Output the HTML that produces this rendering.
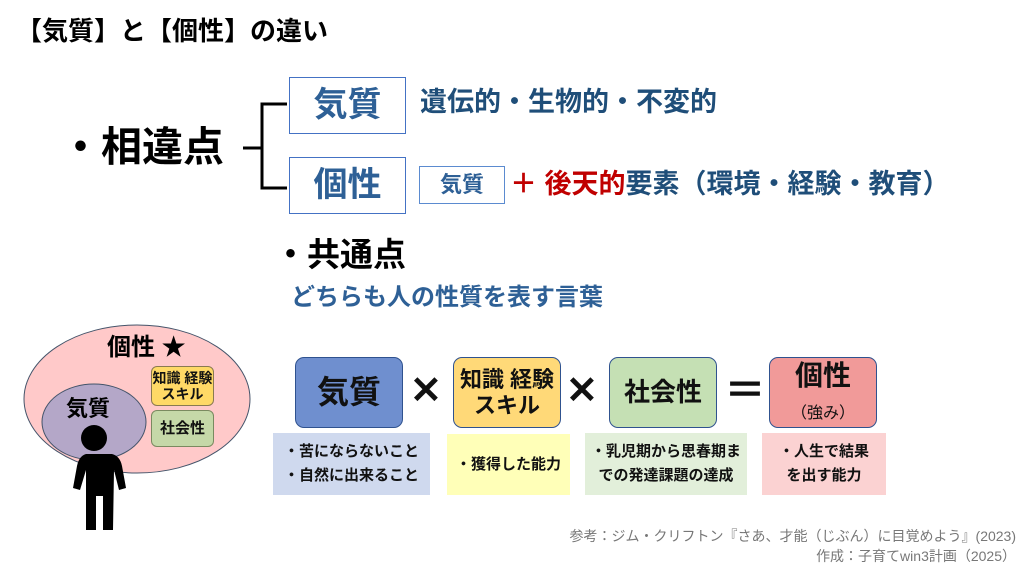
<!DOCTYPE html>
<html><head><meta charset="utf-8"><style>
body{margin:0;width:1024px;height:576px;background:#fff;position:relative;overflow:hidden;font-family:"Liberation Sans","Noto Sans CJK JP",sans-serif;font-weight:bold}
.a{position:absolute;white-space:nowrap;line-height:1}
.bx{position:absolute;box-sizing:border-box;display:flex;align-items:center;justify-content:center;text-align:center;line-height:1.15}
.rb{border:1.5px solid #2f528f;border-radius:9px;color:#111}
</style></head><body>
<div class="a" style="left:16px;top:18px;font-size:26px;color:#000">【気質】と【個性】の違い</div>
<div class="a" style="left:60px;top:127px;font-size:41px;color:#000">・相違点</div>
<svg class="a" style="left:0;top:0" width="1024" height="576">
<path d="M243 148 H262 M287 104 H262 V188 H287" stroke="#000" stroke-width="3" fill="none"/>
<ellipse cx="137" cy="399" rx="113" ry="74" fill="#ffc9c9" stroke="#44546a" stroke-width="1"/>
<ellipse cx="94" cy="422" rx="52" ry="38" fill="#b4a7c8" stroke="#44546a" stroke-width="1"/>
<circle cx="94" cy="438" r="13" fill="#000"/>
<path d="M76 454 H112 Q120 456 122 466 L126 488 L119 490 L114 470 L113 530 L103 530 L103 496 L96 496 L96 530 L86 530 L86 470 L80 490 L73 488 L77 466 Q79 456 86 454Z" fill="#000"/>
</svg>
<div class="bx" style="left:289px;top:77px;width:117px;height:57px;border:1.5px solid #4472c4;color:#2e6096;font-size:34px">気質</div>
<div class="a" style="left:420px;top:89px;font-size:27px;color:#1f4e79">遺伝的・生物的・不変的</div>
<div class="bx" style="left:289px;top:157px;width:117px;height:57px;border:1.5px solid #4472c4;color:#2e6096;font-size:34px">個性</div>
<div class="bx" style="left:419px;top:166px;width:86px;height:38px;border:1.5px solid #5b8bd0;color:#2e6096;font-size:22px">気質</div>
<div class="a" style="left:510px;top:171px;font-size:27px;color:#c00000">＋ 後天的<span style="color:#1f4e79">要素（環境・経験・教育）</span></div>
<div class="a" style="left:274px;top:238px;font-size:33px;color:#000">・共通点</div>
<div class="a" style="left:291px;top:286px;font-size:24px;color:#2e6096">どちらも人の性質を表す言葉</div>
<div class="a" style="left:107px;top:336px;font-size:24px;color:#000">個性 ★</div>
<div class="a" style="left:66px;top:398px;font-size:22px;color:#000">気質</div>
<div class="bx rb" style="left:151px;top:366px;width:63px;height:40px;background:#ffd966;font-size:14px;border-radius:6px;border-color:#8a7a50">知識 経験<br>スキル</div>
<div class="bx rb" style="left:151px;top:410px;width:63px;height:37px;background:#c5d8a8;font-size:15px;border-radius:6px;border-color:#7a8a60">社会性</div>
<div class="bx rb" style="left:295px;top:357px;width:108px;height:71px;background:#6f8fcf;font-size:32px">気質</div>
<div class="a" style="left:410px;top:372px;font-size:38px;color:#111">✕</div>
<div class="bx rb" style="left:453px;top:357px;width:108px;height:71px;background:#ffd978;font-size:22px">知識 経験<br>スキル</div>
<div class="a" style="left:566px;top:372px;font-size:38px;color:#111">✕</div>
<div class="bx rb" style="left:609px;top:357px;width:108px;height:71px;background:#c5e0b4;font-size:26px">社会性</div>
<div class="a" style="left:724px;top:370px;font-size:42px;color:#111">＝</div>
<div class="bx rb" style="left:769px;top:357px;width:108px;height:71px;background:#f19a99;font-size:28px"><div>個性<br><span style="font-size:16px;font-weight:normal">（強み）</span></div></div>
<div class="bx" style="left:273px;top:433px;width:157px;height:62px;background:#cfd9ee;font-size:15px;color:#111;text-align:left;line-height:1.6">・苦にならないこと<br>・自然に出来ること</div>
<div class="bx" style="left:447px;top:434px;width:123px;height:61px;background:#ffffb8;font-size:15px;color:#111">・獲得した能力</div>
<div class="bx" style="left:585px;top:433px;width:162px;height:62px;background:#e2efda;font-size:15px;color:#111;line-height:1.6">・乳児期から思春期ま<br>での発達課題の達成</div>
<div class="bx" style="left:762px;top:433px;width:124px;height:62px;background:#fbd2d2;font-size:15px;color:#111;line-height:1.6">・人生で結果<br>を出す能力</div>
<div class="a" style="right:8px;top:529px;font-size:14px;font-weight:normal;color:#777">参考：ジム・クリフトン『さあ、才能（じぶん）に目覚めよう』(2023)</div>
<div class="a" style="right:8px;top:549px;font-size:14px;font-weight:normal;color:#777">作成：子育てwin3計画（2025）</div>
</body></html>
